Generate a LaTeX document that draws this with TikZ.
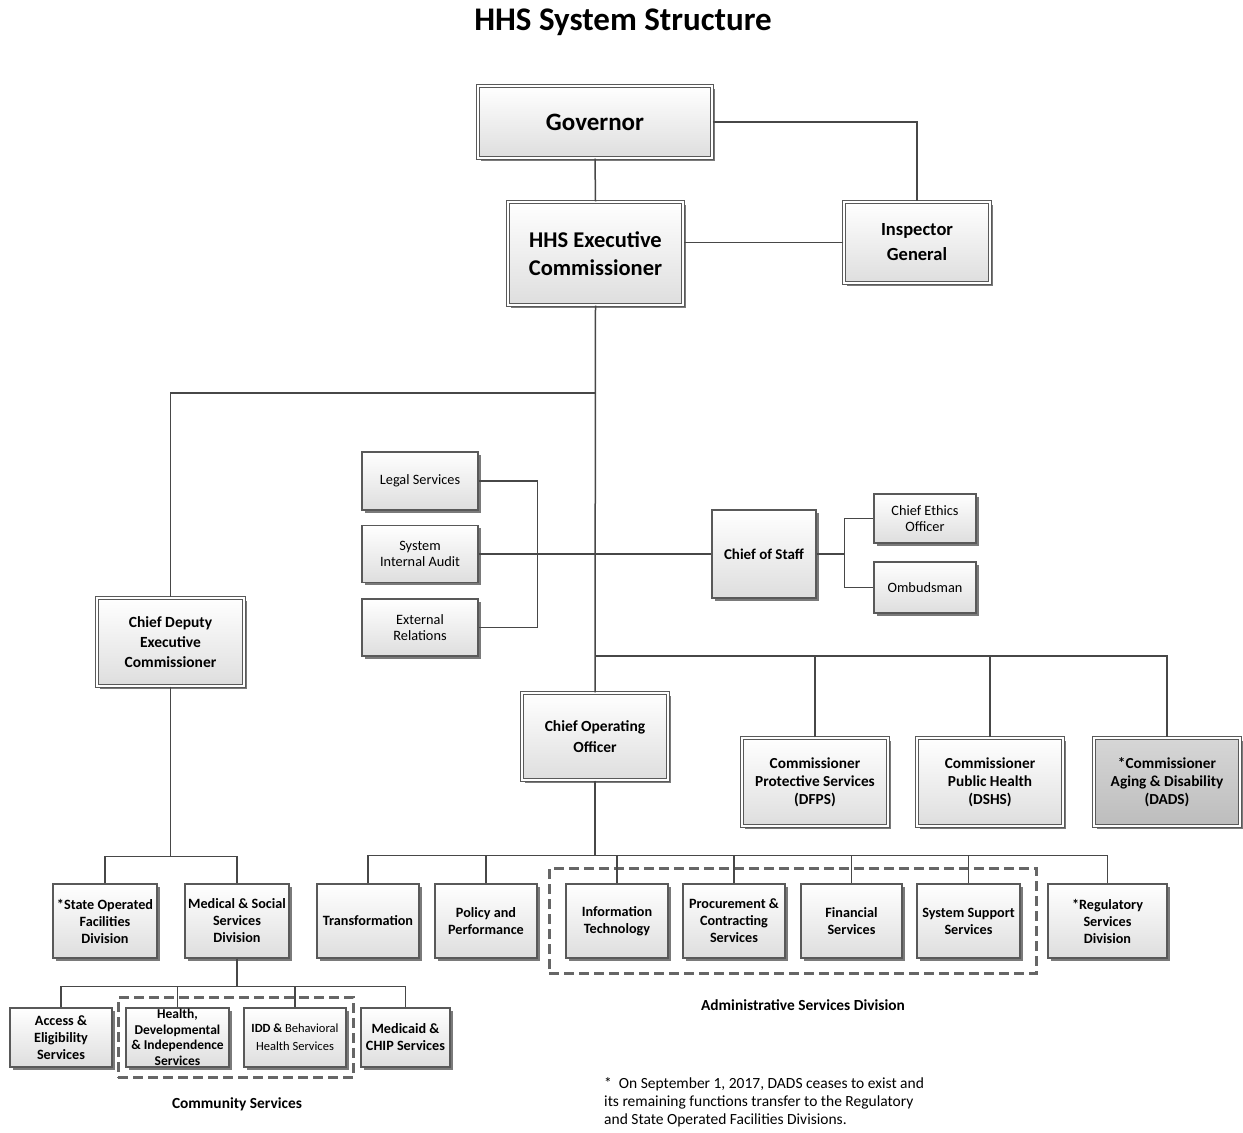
\documentclass[tikz,border=0pt]{standalone}
\usepackage{fontspec}
\setmainfont{Carlito}
\usepackage{tikz}
\usetikzlibrary{shadows, fit}

\tikzset{
	unit/.style = {draw=black!65, line width=1.1pt, top color=white, bottom color=black!13,
		drop shadow={shadow xshift=2.5pt, shadow yshift=-2.5pt, fill=black!65, opacity=.8},
		align=center, inner sep=2pt, font=\fontsize{14.3}{16}\selectfont},
	unitb/.style = {unit, font=\bfseries\fontsize{14.2}{17}\selectfont},
	head/.style = {unit, double=white, double distance=1.5pt, font=\bfseries\fontsize{15.5}{20}\selectfont},
	link/.style = {draw=black!72, line width=1.5pt},
	group/.style = {draw=black!60, line width=2.2pt, dash pattern=on 10pt off 5pt, inner sep=0pt},
}

\begin{document}
\begin{tikzpicture}[x=1pt, y=-1pt]
	\useasboundingbox (0,0) rectangle (1243,1133);
	\node[font=\bfseries\fontsize{33}{36}\selectfont] (title) at (623,22) {HHS System Structure};

	\node[head, minimum width=234, minimum height=72, font=\bfseries\fontsize{25}{28}\selectfont] (gov) at (595,122) {Governor};
	\node[head, minimum width=175, minimum height=103, font=\bfseries\fontsize{22.5}{28}\selectfont] (hhs) at (595.5,253.5) {HHS Executive\\Commissioner};
	\node[head, minimum width=146, minimum height=81, font=\bfseries\fontsize{18.5}{25}\selectfont] (ig) at (917,242.5) {Inspector\\General};

	\node[unit, minimum width=116, minimum height=58] (legal) at (420,481) {Legal Services};
	\node[unit, minimum width=116, minimum height=57] (sia) at (420,554) {System\\Internal Audit};
	\node[unit, minimum width=116, minimum height=57] (ext) at (420,627.5) {External\\Relations};
	\node[unitb, minimum width=104, minimum height=88, font=\bfseries\fontsize{15}{17}\selectfont] (cos) at (764,554) {Chief of Staff};
	\node[unit, minimum width=102, minimum height=49] (ceo) at (925,518.5) {Chief Ethics\\Officer};
	\node[unit, minimum width=102, minimum height=51] (omb) at (925,587.5) {Ombudsman};

	\node[head, minimum width=147, minimum height=88] (cdc) at (170.5,642) {Chief Deputy\\Executive\\Commissioner};
	\node[head, minimum width=146, minimum height=87, font=\bfseries\fontsize{15.5}{21}\selectfont] (coo) at (595,736.5) {Chief Operating\\Officer};
	\node[head, minimum width=146, minimum height=88, font=\bfseries\fontsize{15.3}{18}\selectfont] (dfps) at (815,782) {Commissioner\\Protective Services\\(DFPS)};
	\node[head, minimum width=146, minimum height=88, font=\bfseries\fontsize{15.3}{18}\selectfont] (dshs) at (990,782) {Commissioner\\Public Health\\(DSHS)};
	\node[head, minimum width=146, minimum height=88, font=\bfseries\fontsize{15.3}{18}\selectfont, top color=black!16, bottom color=black!26] (dads) at (1167,782) {*Commissioner\\Aging \& Disability\\(DADS)};

	\node[unitb, minimum width=104, minimum height=74] (sof) at (105,921) {*State Operated\\Facilities\\Division};
	\node[unitb, minimum width=104, minimum height=74] (msd) at (237,921) {Medical \& Social\\Services\\Division};
	\node[unitb, minimum width=102, minimum height=59] (aes) at (61,1037.5) {Access \&\\Eligibility\\Services};
	\node[unitb, minimum width=103, minimum height=59, inner ysep=0pt, font=\bfseries\fontsize{13.5}{15.5}\selectfont] (hdi) at (177.5,1037.5) {Health,\\Developmental\\\& Independence\\Services};
	\node[unit, minimum width=102, minimum height=59, font=\fontsize{12.5}{18}\selectfont] (idd) at (295,1037.5) {\textbf{IDD \&} Behavioral\\Health Services};
	\node[unitb, minimum width=89, minimum height=59] (mcs) at (405.5,1037.5) {Medicaid \&\\CHIP Services};

	\node[unitb, minimum width=102, minimum height=74] (trn) at (368,921) {Transformation};
	\node[unitb, minimum width=102, minimum height=74] (pp) at (486,921) {Policy and\\Performance};
	\node[unitb, minimum width=102, minimum height=74] (it) at (617,921) {Information\\Technology};
	\node[unitb, minimum width=102, minimum height=74] (pcs) at (734,921) {Procurement \&\\Contracting\\Services};
	\node[unitb, minimum width=101, minimum height=74] (fin) at (851.5,921) {Financial\\Services};
	\node[unitb, minimum width=103, minimum height=74] (sss) at (968.5,921) {System Support\\Services};
	\node[unitb, minimum width=119, minimum height=74] (rsd) at (1107.5,921) {*Regulatory\\Services\\Division};

	\node[group, inner xsep=7pt, inner ysep=10pt, fit=(hdi)(idd)] (cs) {};
	\node[group, inner xsep=16pt, inner ysep=15pt, fit=(it)(sss)] (asd) {};
	\node[font=\bfseries\fontsize{15.4}{16}\selectfont] (cslabel) at (237,1104) {Community Services};
	\node[font=\bfseries\fontsize{15.4}{16}\selectfont] (asdlabel) at (803,1005) {Administrative Services Division};
	\node[anchor=north west, align=left, inner sep=0pt, font=\fontsize{15.5}{18}\selectfont] (note) at (604,1077)
		{* \ On September 1, 2017, DADS ceases to exist and\\its remaining functions transfer to the Regulatory\\and State Operated Facilities Divisions.};

	\coordinate (j1) at (595,393);
	\coordinate (j2) at (595,656);
	\draw[link] (gov.south) -- (hhs.north);
	\draw[link] (gov.east) -| (ig.north);
	\draw[link] (ig.west) -- (ig.west -| hhs.east);
	\draw[link] (hhs.south) -- (coo.north);
	\draw[link] (j1) -| (cdc.north);
	\draw[link] (sia.east) -- (cos.west);
	\draw[link] (legal.east) -- ++(59,0) |- (ext.east);
	\draw[link] (cos.east) -- ++(28,0) coordinate (cb);
	\draw[link] (ceo.west) -| (cb) |- (omb.west);
	\draw[link] (j2) -| (dads.north);
	\foreach \n in {dfps, dshs}
		\draw[link] (\n.north) -- (\n.north |- j2);

	\draw[link] (cdc.south) -- ++(0,170) coordinate (j3);
	\draw[link] (sof.north) |- (j3) -| (msd.north);
	\draw[link] (msd.south) -- ++(0,28) coordinate (j4);
	\draw[link] (aes.north) |- (j4) -| (mcs.north);
	\foreach \n in {hdi, idd}
		\draw[link] (\n.north) -- (\n.north |- j4);

	\draw[link] (coo.south) -- ++(0,75) coordinate (j5);
	\draw[link] (trn.north) |- (j5) -| (rsd.north);
	\foreach \n in {pp, it, pcs, fin, sss}
		\draw[link] (\n.north) -- (\n.north |- j5);
\end{tikzpicture}
\end{document}
